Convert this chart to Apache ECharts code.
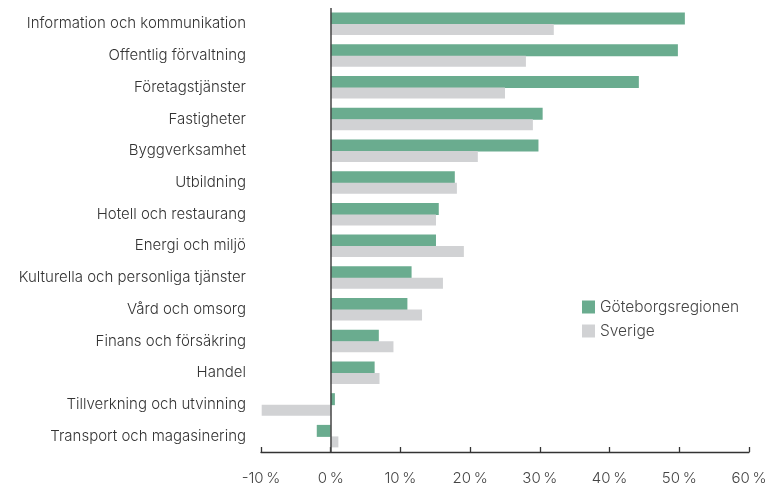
<!DOCTYPE html>
<html>
<head>
<meta charset="utf-8">
<script src="https://cdn.jsdelivr.net/npm/echarts@6/dist/echarts.min.js"></script>
<style>
  html, body { margin: 0; padding: 0; background: #fff; }
  #chart { width: 770px; height: 486px; }
</style>
</head>
<body>
<div id="chart"></div>
<script>
// branscher, uppifrån och ned
const categories = [
  'Information och kommunikation',
  'Offentlig förvaltning',
  'Företagstjänster',
  'Fastigheter',
  'Byggverksamhet',
  'Utbildning',
  'Hotell och restaurang',
  'Energi och miljö',
  'Kulturella och personliga tjänster',
  'Vård och omsorg',
  'Finans och försäkring',
  'Handel',
  'Tillverkning och utvinning',
  'Transport och magasinering'
]
const goteborg = [50.8, 49.8, 44.2, 30.4, 29.8, 17.8, 15.5, 15.1, 11.6, 11.0, 6.9, 6.3, 0.6, -2.0]
const sverige = [32.0, 28.0, 25.0, 29.0, 21.1, 18.1, 15.1, 19.1, 16.1, 13.1, 9.0, 7.0, -9.9, 1.1]
const xTicks = [-10, 0, 10, 20, 30, 40, 50, 60]

const font = 'Inter'
const myChart = echarts.init(document.getElementById('chart'))

myChart.setOption({
  animation: false,
  color: ['#6aac8f', '#d1d2d4'],
  textStyle: { fontFamily: font },
  legend: {
    orient: 'vertical',
    left: 577,
    top: 294,
    itemWidth: 13,
    itemHeight: 13,
    itemGap: 8,
    icon: 'rect',
    selectedMode: false,
    textStyle: { color: '#444', fontSize: 15.5, lineHeight: 13, fontFamily: font, fontWeight: 300, padding: [1, 0, 0, 0] }
  },
  grid: { left: 261, right: 21, top: 8, bottom: 34 },
  xAxis: {
    type: 'value',
    min: xTicks[0],
    max: xTicks[xTicks.length - 1],
    interval: 10,
    axisLine: { show: true, lineStyle: { color: '#333', width: 1.3 } },
    axisTick: { show: true, inside: true, length: 5, lineStyle: { color: '#333', width: 1.3 } },
    splitLine: { show: false },
    axisLabel: {
      color: '#444',
      fontSize: 15,
      fontWeight: 300,
      margin: 19,
      formatter: v => v + '\u202f%'
    }
  },
  yAxis: {
    type: 'category',
    data: categories,
    inverse: true,
    axisLine: { show: false },
    axisTick: { show: false },
    axisLabel: { color: '#333', fontSize: 15, fontWeight: 300, margin: 15, padding: [0, 0, 3, 0] }
  },
  series: [
    {
      name: 'Göteborgsregionen',
      type: 'bar',
      data: goteborg,
      barWidth: 12,
      barGap: '-4%',
      markLine: {
        silent: true,
        symbol: 'none',
        label: { show: false },
        lineStyle: { color: '#444', width: 1.5, type: 'solid' },
        data: [{ xAxis: 0 }]
      }
    },
    {
      name: 'Sverige',
      type: 'bar',
      data: sverige,
      barWidth: 11
    }
  ]
})
</script>
</body>
</html>
